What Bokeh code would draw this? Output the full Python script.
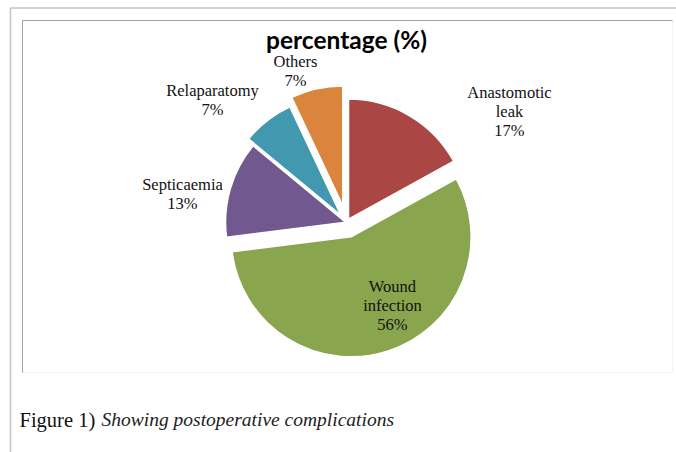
import numpy as np
from bokeh.plotting import figure
from bokeh.models import Range1d, ColumnDataSource, BoxAnnotation, Label
from bokeh.core.properties import value
from bokeh.embed import file_html
from bokeh.resources import INLINE

# ---- data ----
categories = ["Anastomotic\nleak", "Wound\ninfection", "Septicaemia", "Relaparatomy", "Others"]
percent = [17, 56, 13, 7, 7]

# ---- styles / layout ----
colors = ["#AA4643", "#89A54E", "#71588F", "#4198AF", "#DB843D"]
explode_px = [4, 15, 1, 9, 17]
label_offsets = [(163, -111), (46, 83), (-164, -29), (-134, -123), (-51, -152)]  # px from pie centre (screen)
title_text = "percentage (%)"
caption_bold = "Figure 1)"
caption_italic = "Showing postoperative complications"

W, H = 676, 452
def py(page_y):
    return H - page_y

cx, cy = 346, py(222)
R = 120

p = figure(width=W, height=H, output_backend="svg", toolbar_location=None,
           x_range=Range1d(0, W), y_range=Range1d(0, H),
           x_axis_location=None, y_axis_location=None, min_border=0)
p.grid.visible = False
p.outline_line_color = None
p.background_fill_color = "white"

# frames
p.add_layout(BoxAnnotation(left=10, right=900, top=py(7.5), bottom=-200,
                           fill_alpha=0, line_color="#3a3a3a", line_width=1.5))
p.add_layout(BoxAnnotation(left=22, right=672, top=py(20), bottom=py(372),
                           fill_alpha=0, line_color="#d9d9d9", line_width=1))
p.segment(x0=[22, 22], y0=[py(372), py(20)], x1=[22, 672], y1=[py(20), py(20)],
          line_color="#8c8c8c", line_width=1)

# pie
frac = np.array(percent, dtype=float) / sum(percent)
cum_end = np.cumsum(frac)
cum_start = cum_end - frac
start_angle = np.pi / 2 - 2 * np.pi * cum_end
end_angle = np.pi / 2 - 2 * np.pi * cum_start
mid = (start_angle + end_angle) / 2
ex = np.array(explode_px, dtype=float)
src = ColumnDataSource(dict(
    x=cx + ex * np.cos(mid), y=cy + ex * np.sin(mid),
    start=start_angle, end=end_angle, color=colors,
))
p.wedge(x="x", y="y", radius=R, start_angle="start", end_angle="end",
        direction="anticlock", fill_color="color", line_color="white",
        line_width=1.5, source=src)

labels = [f"{c}\n{v}%" for c, v in zip(categories, percent)]
lsrc = ColumnDataSource(dict(
    x=[cx + dx for dx, dy in label_offsets],
    y=[cy - dy for dx, dy in label_offsets],
    t=labels,
))
p.text(x="x", y="y", text="t", source=lsrc, text_align="center",
       text_baseline="middle", text_font=value("Liberation Serif"),
       text_font_size="16.5px", text_line_height=1.0, text_color="#111111")

p.add_layout(Label(x=cx, y=py(39), text=title_text, text_align="center",
                   text_baseline="middle", text_font="Lato",
                   text_font_style="bold", text_font_size="24.5px",
                   text_color="#000000"))

p.add_layout(Label(x=19, y=py(419), text=caption_bold, text_align="left",
                   text_baseline="middle", text_font="Liberation Serif",
                   text_font_size="20.5px", text_color="#111111"))
p.add_layout(Label(x=101, y=py(419), text=caption_italic, text_align="left",
                   text_baseline="middle", text_font="Liberation Serif",
                   text_font_style="italic", text_font_size="19.5px",
                   text_color="#222222"))

open("out.html", "w").write(file_html(p, INLINE))
